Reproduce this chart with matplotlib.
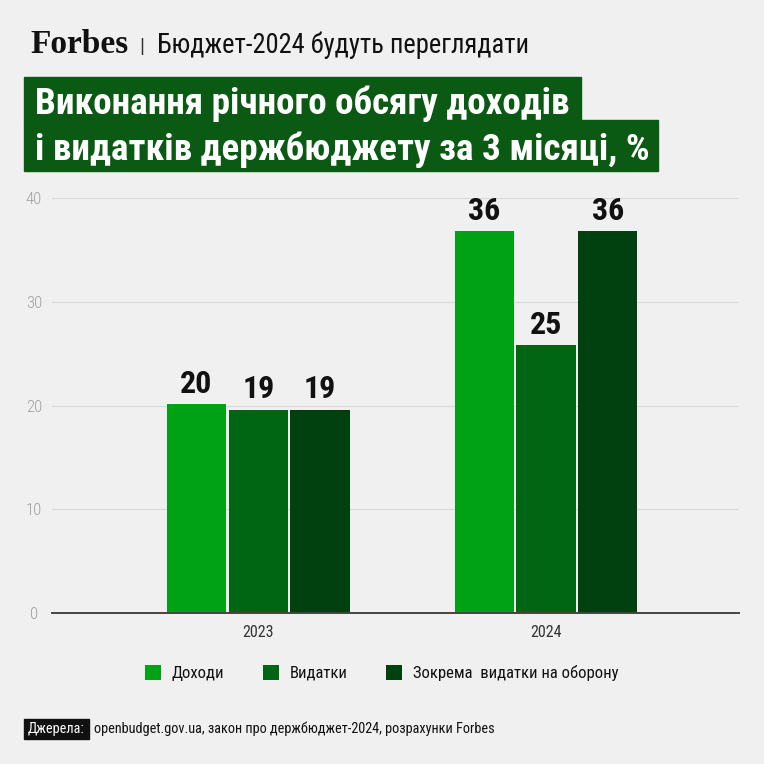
import matplotlib.pyplot as plt
from matplotlib.patches import Rectangle
from matplotlib.transforms import Affine2D

years = ["2023", "2024"]
series = ["Доходи", "Видатки", "Зокрема  видатки на оборону"]
dohody = [20.1, 36.8]
vydatky = [19.6, 25.8]
oborona = [19.6, 36.8]
colors = ["#00a215", "#006614", "#00410f"]

narrow = ["Roboto Condensed", "DejaVu Sans"]

W = 764
bg = "#f0f0f0"
fig = plt.figure(figsize=(W / 100, W / 100), dpi=100, facecolor=bg)
# piksel-koordinaty vid verhnioho livoho kuta
px = Affine2D().scale(1 / W, -1 / W).translate(0, 1) + fig.transFigure

ax = fig.add_axes([52 / W, (W - 612.7) / W, (738.7 - 52) / W, (612.7 - 198.3) / W])
ax.set_facecolor(bg)

w = 0.2065
step = 0.2145
for i, vals in enumerate([dohody, vydatky, oborona]):
    xs = [k + (i - 1) * step for k in range(len(years))]
    bars = ax.bar(xs, vals, width=w, color=colors[i], label=series[i], zorder=3)
    for b, v in zip(bars, vals):
        ax.text(b.get_x() + b.get_width() / 2, v + 0.55, str(int(v)), ha="center", va="bottom",
                fontsize=23, fontweight="bold", family=narrow, color="#111111", zorder=4)

ax.set_ylim(0, 40)
ax.set_xlim(-0.717, 1.670)
ax.set_yticks([0, 10, 20, 30, 40])
ax.set_yticklabels(["0", "10", "20", "30", "40"], family=narrow, fontsize=12, fontweight="light",
                   color="#a0a0a0", ha="center")
ax.tick_params(axis="y", length=0, pad=13)
ax.set_xticks(range(len(years)))
ax.set_xticklabels(years, family=narrow, fontsize=11.5, color="#333333")
ax.tick_params(axis="x", length=0, pad=9)
ax.grid(axis="y", color="#d8d8d8", linewidth=0.8, zorder=0)
for s in ["top", "right", "left"]:
    ax.spines[s].set_visible(False)
ax.spines["bottom"].set_color("#444444")
ax.spines["bottom"].set_linewidth(1.4)
ax.spines["bottom"].set_zorder(5)

# shapka
fig.text(30, 53.3, "Forbes", transform=px, family="Liberation Serif", fontweight="bold",
         fontsize=24, va="baseline", color="#111111")
fig.text(141.7, 53.3, "|", transform=px, family=narrow, fontsize=15, va="baseline", ha="center", color="#333333")
fig.text(156.7, 53.3, "Бюджет-2024 будуть переглядати", transform=px, family=narrow,
         fontsize=19.1, va="baseline", color="#111111")

title_bg = "#0b5a14"
fig.patches.append(Rectangle((24, 77.3), 580.7 - 24, 120 - 77.3, transform=px, color=title_bg))
fig.patches.append(Rectangle((24, 120), 657.7 - 24, 170.7 - 120, transform=px, color=title_bg))
fig.text(35, 114.5, "Виконання річного обсягу доходів", transform=px, family=narrow,
         fontweight="bold", fontsize=26.7, va="baseline", color="white")
fig.text(35, 160.5, "і видатків держбюджету за 3 місяці, %", transform=px, family=narrow,
         fontweight="bold", fontsize=26.7, va="baseline", color="white")

fig.legend(loc="center", bbox_to_anchor=(381.5 / W, 1 - 673 / W), ncol=3, frameon=False,
           prop={"family": narrow, "size": 12}, handlelength=0.96, handleheight=0.96,
           handletextpad=0.66, columnspacing=2.3, labelcolor="#111111")

fig.patches.append(Rectangle((24, 719), 89 - 24, 739 - 719, transform=px, color="#111111"))
fig.text(56.5, 729, "Джерела:", transform=px, family=narrow, fontsize=10.3, ha="center", va="center", color="white")
fig.text(94, 729, "openbudget.gov.ua, закон про держбюджет-2024, розрахунки Forbes", transform=px,
         family=narrow, fontsize=10.3, va="center", color="#111111")

fig.savefig("out.png", dpi=100, facecolor=bg)
